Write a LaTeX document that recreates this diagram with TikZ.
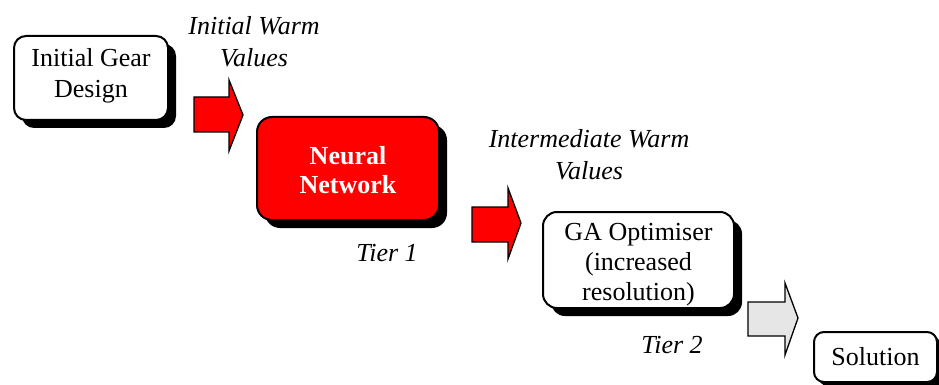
\documentclass[tikz,border=0pt]{standalone}
\usepackage{fontspec}
\setmainfont{Liberation Serif}
\usetikzlibrary{shadows}
\definecolor{arrowred}{RGB}{255,0,0}
\definecolor{arrowgrey}{RGB}{230,230,230}
\tikzset{
  txt/.style={font=\fontsize{26}{31}\selectfont, align=center, inner sep=0pt},
  itxt/.style={txt, font=\fontsize{26}{32}\selectfont\itshape},
  stage/.style={draw=black, line width=2pt, fill=white, inner sep=0pt,
    drop shadow={shadow xshift=8pt, shadow yshift=-8pt, opacity=1, fill=black}},
  blockarrow/.style={draw=black, line width=1.3pt, line join=miter}
}
\begin{document}
\begin{tikzpicture}[x=1pt,y=-1pt]
\useasboundingbox (0,0) rectangle (939,385);

% process stages
\node[stage, rounded corners=12pt, minimum width=154pt, minimum height=84pt] (gear) at (91,78) {};
\node[txt] (geartext) at ([yshift=2pt]gear.center) {Initial Gear\\Design};

\node[stage, fill=arrowred, rounded corners=15pt, minimum width=182pt, minimum height=103pt] (nn) at (348,168.5) {};
\node[txt, font=\fontsize{26}{29}\selectfont\bfseries, text=white] (nntext) at ([yshift=-2pt]nn.center) {Neural\\Network};

\node[stage, rounded corners=14pt, minimum width=191pt, minimum height=96pt] (ga) at (638.5,260) {};
\node[txt, font=\fontsize{26}{30}\selectfont] (gatext) at ([yshift=-5pt]ga.center) {GA Optimiser\\(increased\\resolution)};

\node[stage, rounded corners=10pt, minimum width=123pt, minimum height=50pt,
      drop shadow={shadow xshift=4pt, shadow yshift=-4pt, opacity=1, fill=black},
      txt] (sol) at (875.5,357) {Solution};

% block arrows between stages
\draw[blockarrow, fill=arrowred]
  (194,97) -- (229,97) -- (229,80) -- (243,115) -- (229,151) -- (229,132) -- (194,132) -- cycle;
\draw[blockarrow, fill=arrowred]
  (472,207) -- (508,207) -- (508,188) -- (521,223) -- (508,259) -- (508,242) -- (472,242) -- cycle;
\draw[blockarrow, fill=arrowgrey]
  (748,302) -- (785,302) -- (785,283) -- (798,318) -- (785,355) -- (785,336) -- (748,336) -- cycle;

% annotations
\node[itxt] (iwv) at (254,42) {Initial Warm\\Values};
\node[itxt] (mwv) at (589,155) {Intermediate Warm\\Values};
\node[itxt] (t1) at (387,253) {Tier 1};
\node[itxt] (t2) at (672,345) {Tier 2};
\end{tikzpicture}
\end{document}
